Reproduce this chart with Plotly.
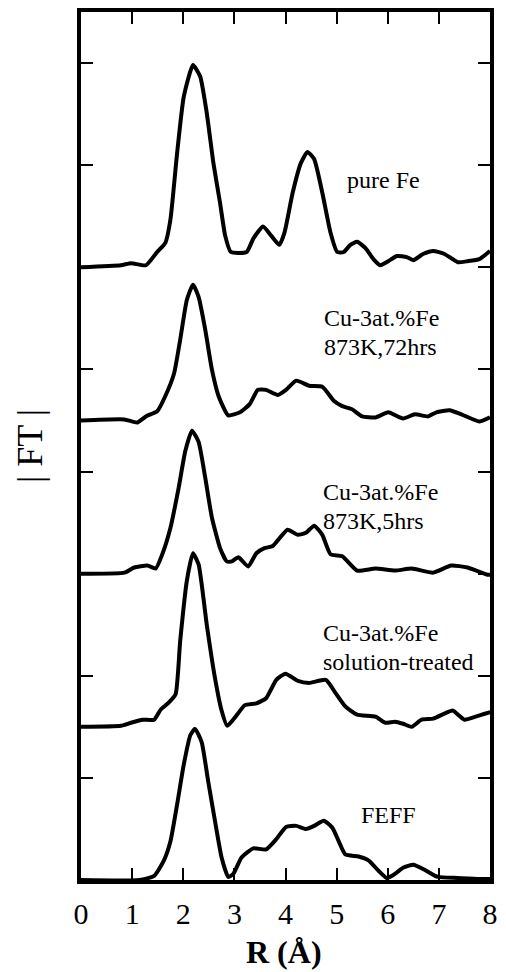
import plotly.graph_objects as go

# ---------------- data ----------------
pure_fe_r = [0.0, 0.78, 0.98, 1.27, 1.49, 1.65, 1.75, 1.88, 2.01, 2.19, 2.33, 2.46, 2.59, 2.72, 2.82, 2.93,
             3.24, 3.37, 3.56, 3.72, 3.88, 3.98, 4.14, 4.30, 4.43, 4.56, 4.72, 4.88, 5.01, 5.14, 5.27, 5.40,
             5.56, 5.72, 5.85, 6.01, 6.18, 6.37, 6.50, 6.69, 6.89, 7.11, 7.37, 7.56, 7.79, 8.0]
pure_fe_ft = [0.0, 0.02, 0.04, 0.02, 0.15, 0.24, 0.47, 1.12, 1.67, 1.98, 1.87, 1.51, 1.02, 0.63, 0.31, 0.15,
              0.15, 0.28, 0.40, 0.31, 0.22, 0.34, 0.73, 1.02, 1.13, 1.06, 0.73, 0.34, 0.15, 0.15, 0.22, 0.25,
              0.19, 0.08, 0.02, 0.06, 0.11, 0.10, 0.07, 0.13, 0.16, 0.13, 0.05, 0.06, 0.08, 0.16]

h72_r = [0.0, 0.85, 1.10, 1.27, 1.49, 1.65, 1.82, 1.94, 2.07, 2.19, 2.30, 2.43, 2.56, 2.69, 2.88, 3.11,
         3.30, 3.46, 3.62, 3.85, 4.01, 4.21, 4.46, 4.72, 4.95, 5.11, 5.30, 5.50, 5.76, 6.01, 6.30, 6.53,
         6.79, 6.95, 7.21, 7.44, 7.79, 8.0]
h72_ft = [0.0, 0.01, -0.02, 0.04, 0.09, 0.24, 0.46, 0.79, 1.18, 1.33, 1.21, 0.89, 0.50, 0.24, 0.05, 0.08,
          0.16, 0.30, 0.30, 0.25, 0.30, 0.39, 0.34, 0.33, 0.19, 0.14, 0.11, 0.04, 0.03, 0.08, 0.02, 0.06,
          0.04, 0.08, 0.10, 0.06, -0.01, 0.03]

h5_r = [0.0, 0.85, 1.04, 1.30, 1.46, 1.59, 1.75, 1.91, 2.04, 2.17, 2.30, 2.43, 2.56, 2.72, 2.85, 2.95,
        3.08, 3.27, 3.43, 3.59, 3.75, 4.04, 4.24, 4.40, 4.56, 4.72, 4.88, 5.11, 5.40, 5.76, 6.14, 6.47,
        6.89, 7.24, 7.56, 7.95, 8.0]
h5_ft = [0.0, 0.01, 0.06, 0.08, 0.05, 0.19, 0.45, 0.84, 1.20, 1.40, 1.29, 0.94, 0.55, 0.25, 0.12, 0.12,
         0.16, 0.07, 0.20, 0.25, 0.27, 0.43, 0.38, 0.40, 0.47, 0.38, 0.19, 0.17, 0.03, 0.05, 0.03, 0.05,
         0.01, 0.08, 0.06, -0.01, -0.01]

sol_r = [0.0, 0.78, 0.98, 1.20, 1.43, 1.56, 1.72, 1.85, 1.94, 2.07, 2.19, 2.30, 2.46, 2.62, 2.75, 2.86,
         3.04, 3.20, 3.43, 3.62, 3.82, 4.00, 4.24, 4.46, 4.79, 4.98, 5.17, 5.40, 5.76, 5.95, 6.14, 6.30,
         6.47, 6.66, 6.89, 7.11, 7.27, 7.50, 7.72, 7.98, 8.0]
sol_ft = [0.0, 0.01, 0.04, 0.07, 0.07, 0.17, 0.24, 0.32, 0.84, 1.43, 1.70, 1.59, 1.00, 0.48, 0.16, 0.01,
          0.11, 0.21, 0.23, 0.28, 0.46, 0.52, 0.45, 0.43, 0.46, 0.33, 0.20, 0.12, 0.10, 0.04, 0.05, 0.03,
          0.00, 0.07, 0.08, 0.13, 0.16, 0.07, 0.10, 0.14, 0.14]

feff_r = [0.0, 1.14, 1.43, 1.62, 1.75, 1.88, 2.01, 2.14, 2.23, 2.36, 2.49, 2.62, 2.75, 2.88, 2.98, 3.14,
          3.37, 3.62, 3.82, 4.01, 4.21, 4.40, 4.56, 4.75, 4.92, 5.04, 5.17, 5.43, 5.63, 5.82, 5.98, 6.14,
          6.30, 6.50, 6.72, 6.98, 7.37, 7.79, 8.0]
feff_ft = [0.0, 0.0, 0.04, 0.19, 0.38, 0.74, 1.13, 1.42, 1.48, 1.35, 0.96, 0.58, 0.22, 0.03, 0.06, 0.22,
           0.31, 0.30, 0.40, 0.52, 0.53, 0.50, 0.53, 0.58, 0.51, 0.38, 0.25, 0.23, 0.19, 0.09, 0.02, 0.06,
           0.12, 0.15, 0.10, 0.03, 0.02, 0.01, 0.01]

series_r = [pure_fe_r, h72_r, h5_r, sol_r, feff_r]
series_ft = [pure_fe_ft, h72_ft, h5_ft, sol_ft, feff_ft]
offsets = [6.0, 4.5, 3.0, 1.5, 0.0]

labels = [["pure Fe"],
          ["Cu-3at.%Fe", "873K,72hrs"],
          ["Cu-3at.%Fe", "873K,5hrs"],
          ["Cu-3at.%Fe", "solution-treated"],
          ["FEFF"]]

x_ticks = [0, 1, 2, 3, 4, 5, 6, 7, 8]
y_ticks = [1, 2, 3, 4, 5, 6, 7, 8]

# ---------------- figure ----------------
SERIF = "Liberation Serif"
fig = go.Figure()
for r, ft, off in zip(series_r, series_ft, offsets):
    fig.add_trace(go.Scatter(x=r, y=[v + off for v in ft], mode="lines",
                             line=dict(color="black", width=4, shape="spline", smoothing=0.5),
                             showlegend=False, hoverinfo="skip"))

# label positions (data coords) for each line of text
label_pos = [
    [(5.17, 6.85)],
    [(4.71, 5.50), (4.71, 5.22)],
    [(4.69, 3.80), (4.69, 3.52)],
    [(4.69, 2.42), (4.69, 2.13)],
    [(5.43, 0.64)],
]
for lines, poss in zip(labels, label_pos):
    for txt, (lx, ly) in zip(lines, poss):
        fig.add_annotation(x=lx, y=ly, text=txt, showarrow=False, xanchor="left", yanchor="middle",
                           font=dict(family=SERIF, size=24, color="black"))

# axis titles as annotations
fig.add_annotation(xref="paper", yref="paper", x=-0.125, y=0.5, text="| FT |", textangle=-90,
                   showarrow=False, xanchor="center", yanchor="middle",
                   font=dict(family=SERIF, size=36, color="black"))
fig.add_annotation(xref="paper", yref="paper", x=0.496, y=-0.083, text="<b>R (Å)</b>",
                   showarrow=False, xanchor="center", yanchor="middle",
                   font=dict(family=SERIF, size=32, color="black"))

fig.update_xaxes(range=[0, 8], tickvals=x_ticks, ticktext=[str(t) for t in x_ticks],
                 ticks="inside", ticklen=12, tickwidth=2, tickcolor="black",
                 showline=True, linewidth=3.5, linecolor="black", mirror="ticks",
                 showgrid=False, zeroline=False, ticklabelstandoff=4,
                 tickfont=dict(family=SERIF, size=30, color="black"))
fig.update_yaxes(range=[0, 8.5], tickvals=y_ticks, showticklabels=False,
                 ticks="inside", ticklen=12, tickwidth=2, tickcolor="black",
                 showline=True, linewidth=3.5, linecolor="black", mirror="ticks",
                 showgrid=False, zeroline=False)

fig.update_layout(width=506, height=972, margin=dict(l=81, r=12, t=8, b=92),
                  paper_bgcolor="white", plot_bgcolor="white", hovermode=False)

fig.write_html("out.html", config={"displayModeBar": False},
               post_script="document.body.style.margin='0';document.body.style.overflow='hidden';")
